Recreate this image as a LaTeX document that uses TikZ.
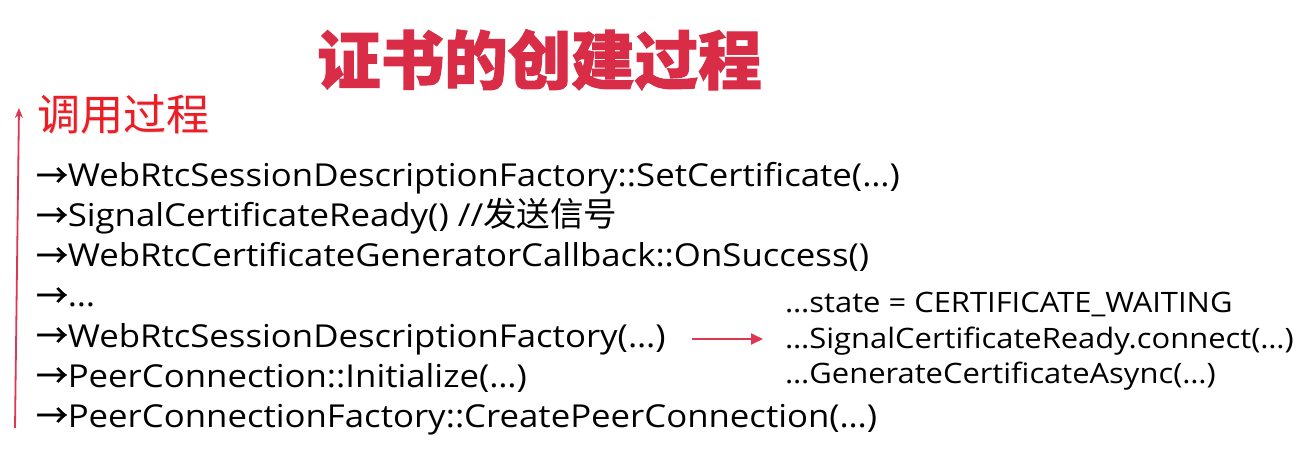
\documentclass[tikz,border=0pt]{standalone}
\usepackage{fontspec}
\setmainfont{Open Sans}[FakeStretch=1.1]
\newfontfamily\cjk{Noto Sans CJK SC}
\newfontfamily\arr{Noto Sans CJK SC}[FakeBold=1.6]
\newfontfamily\ttl{Noto Sans CJK SC}[FakeBold=1.6]
\usetikzlibrary{arrows.meta}
\definecolor{titlered}{HTML}{D92D47}
\definecolor{callred}{HTML}{EE1C25}
\definecolor{arrred}{HTML}{DE3550}
\begin{document}
\begin{tikzpicture}[x=1bp,y=-1bp,
  codeline/.style={anchor=base west, inner sep=0pt, font=\fontsize{31.6bp}{40bp}\selectfont},
  subline/.style={anchor=base west, inner sep=0pt, font=\fontsize{28.1bp}{35bp}\selectfont},
  redconn/.style={draw=arrred, line width=1.8bp, -{Triangle[length=12bp,width=11bp]}}
]
\useasboundingbox (0,0) rectangle (1303,469);
\fill[white] (0,0) rectangle (1303,469);

% title
\node[anchor=base west, inner sep=0pt, text=titlered,
      font=\ttl\bfseries\fontsize{63.5bp}{64bp}\selectfont] (title) at (317,84) {证书的创建过程};

% call process label with halo
\node[anchor=base west, inner sep=0pt, text=gray!22,
      font=\cjk\fontsize{43bp}{44bp}\selectfont] at (38.5,132) {调用过程};
\node[anchor=base west, inner sep=0pt, text=callred,
      font=\cjk\fontsize{43bp}{44bp}\selectfont] (call) at (37,130.5) {调用过程};

% vertical arrow
\coordinate (vb) at (15,428);
\coordinate (vt) at (19,108);
\draw[draw=arrred, line width=1.8bp, -{Stealth[length=10bp,width=8bp]}] (vb) -- (vt);

% left lines
\node[codeline] (l1) at (36,187) {{\arr →}WebRtcSessionDescriptionFactory::SetCertificate(…)};
\node[codeline] (l2) at (36,227) {{\arr →}SignalCertificateReady() //{\cjk\fontsize{33.5bp}{40bp}\selectfont 发送信号}};
\node[codeline] (l3) at (36,267) {{\arr →}WebRtcCertificateGeneratorCallback::OnSuccess()};
\node[codeline] (l4) at (36,307) {{\arr →}…};
\node[codeline] (l5) at (36,347) {{\arr →}WebRtcSessionDescriptionFactory(…)};
\node[codeline] (l6) at (36,387) {{\arr →}PeerConnection::Initialize(…)};
\node[codeline] (l7) at (36,427) {{\arr →}PeerConnectionFactory::CreatePeerConnection(…)};

% right lines
\node[subline] (r1) at (785,313) {…state = CERTIFICATE\_WAITING};
\node[subline] (r2) at (785,348) {…SignalCertificateReady.connect(…)};
\node[subline] (r3) at (785,383) {…GenerateCertificateAsync(…)};

% connector
\coordinate (as) at (692,339);
\coordinate (ae) at (763,339);
\draw[redconn] (as) -- (ae);
\end{tikzpicture}
\end{document}
